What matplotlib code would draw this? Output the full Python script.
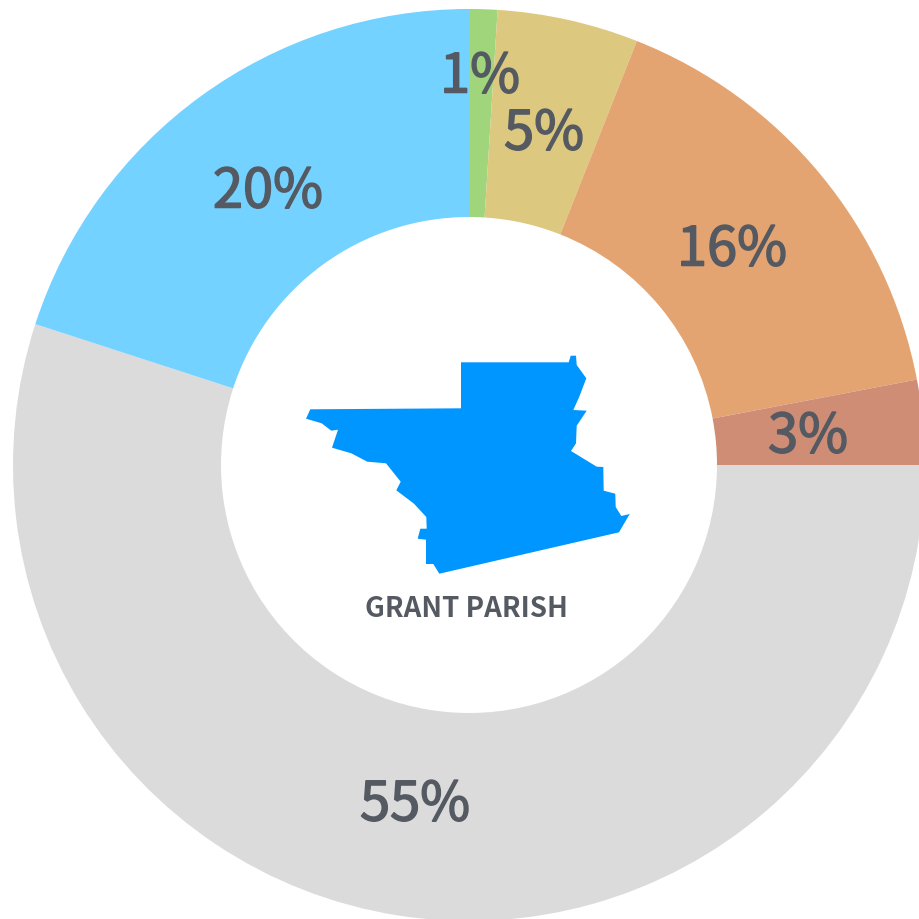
import matplotlib
matplotlib.use("Agg")
import matplotlib.pyplot as plt
import matplotlib.patheffects as pe
import numpy as np

plt.rcParams['font.family'] = ['Noto Sans CJK SC', 'DejaVu Sans']

# slices, clockwise from 12 o'clock
slice_names = ['a', 'b', 'c', 'd', 'e', 'f']
slice_values = [1, 5, 16, 3, 55, 20]
slice_colors = ['#a0d57c', '#dcc87e', '#e4a471', '#cf8d76', '#dbdbdb', '#73d2ff']
slice_labels = ['1%', '5%', '16%', '3%', '55%', '20%']
label_x = [480, 544, 732, 808, 415, 268]
label_y = [77, 134, 250, 437, 805, 192]
center_title = 'GRANT PARISH'

# parish outline (px)
map_x = [461, 568.7, 570.7, 576, 576.7, 586.3, 579.3, 573.3, 586.7, 576.7, 576, 571, 596.7, 603.3,
         603.7, 615.3, 615.7, 621.3, 629.7, 619, 439.3, 433.3, 426, 426, 417.7, 420.3, 426.7, 426.3,
         414, 396.3, 400.7, 386, 367.3, 351.3, 332, 338, 331.3, 321.7, 306, 310.3, 461]
map_y = [362.3, 362.3, 355.7, 355.7, 365, 378.3, 396.7, 410, 410.7, 425.7, 443.3, 451, 466.7, 467,
         490.7, 493.7, 507, 516, 514, 532.3, 573.7, 564, 564, 539.7, 538.7, 528.7, 528.7, 517,
         503.7, 490.3, 481.7, 463.3, 461.7, 453.3, 447.7, 429.7, 430.7, 423.3, 418.7, 409.3, 408.3]

W, H = 919, 920
fig = plt.figure(figsize=(W / 100, H / 100), dpi=100, facecolor='white')
ax = fig.add_axes([0, 0, 1, 1])

# inverted y flips the pie, so clockwise drawing is obtained with counterclock=True
ax.pie(slice_values, colors=slice_colors, startangle=-90, counterclock=True,
       center=(469, 465), radius=456, frame=True,
       wedgeprops=dict(width=208, linewidth=0))
ax.set_xlim(0, W)
ax.set_ylim(H - 1, -1)
ax.set_aspect('equal')
ax.axis('off')

ax.fill(map_x, map_y, color='#0096ff', linewidth=0, zorder=3)

stroke = [pe.withStroke(linewidth=1.1, foreground='#555a62')]
for t, x, y in zip(slice_labels, label_x, label_y):
    ax.text(x, y, t, ha='center', va='center', fontsize=39, color='#555a62',
            zorder=4, path_effects=stroke)
ax.text(466.5, 608.5, center_title, ha='center', va='center', fontsize=19.9, color='#555a62',
        fontweight='bold', zorder=4)

fig.savefig('out.png', dpi=100)
